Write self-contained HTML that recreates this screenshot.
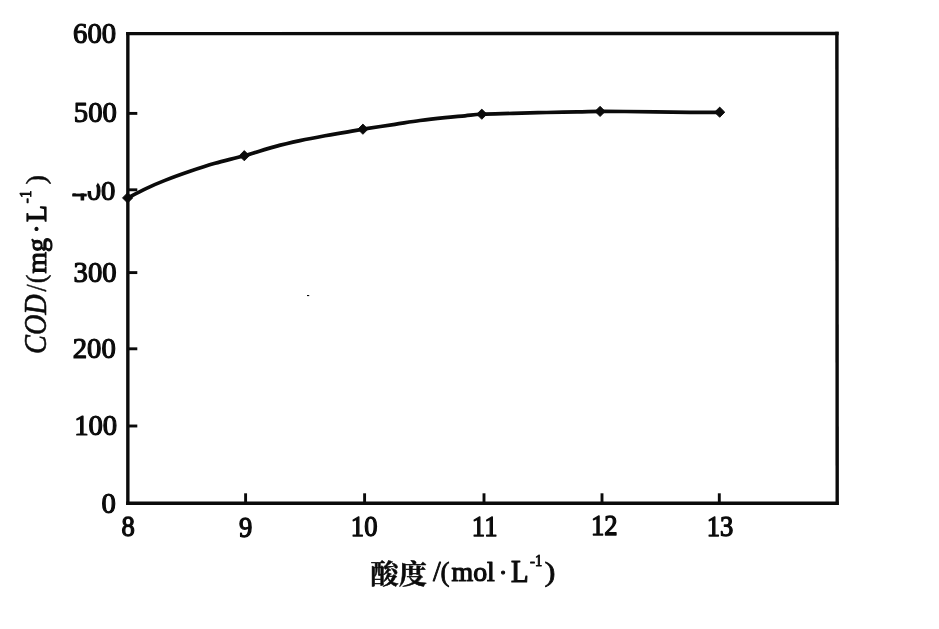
<!DOCTYPE html>
<html lang="zh">
<head>
<meta charset="utf-8">
<title>COD - 酸度</title>
<style>
  html, body { margin: 0; padding: 0; background: #fff; }
  body { width: 939px; height: 629px; overflow: hidden; position: relative; }
  svg { position: absolute; left: 0; top: 0; display: block; will-change: transform; }
  text {
    font-family: "Liberation Serif", "Noto Serif CJK SC", serif;
    font-size: 28px;
    fill: #0b0b0b;
    stroke: #0b0b0b;
    stroke-linejoin: round;
  }
  .cjk { font-family: "Noto Serif CJK SC", "Liberation Serif", serif; font-weight: 700; }
  .it { font-style: italic; }
</style>
</head>
<body>
<svg width="939" height="629" viewBox="0 0 939 629">
  <rect x="0" y="0" width="939" height="629" fill="#ffffff"/>

  <!-- plot frame -->
  <g fill="none" stroke="#0b0b0b" stroke-width="3.4" stroke-linecap="square">
    <line x1="127.85" y1="33.60" x2="836.90" y2="33.50"/>
    <line x1="127.85" y1="33.60" x2="127.85" y2="503.30"/>
    <line x1="127.85" y1="503.30" x2="836.90" y2="503.20"/>
    <line x1="836.90" y1="33.50" x2="837.20" y2="503.30"/>
  </g>
  <!-- axis ticks -->
  <g stroke="#0b0b0b" stroke-width="2.9" stroke-linecap="butt">
    <line x1="127.85" y1="113.40" x2="137.30" y2="113.40"/>
    <line x1="127.85" y1="189.80" x2="137.30" y2="189.80"/>
    <line x1="127.85" y1="272.60" x2="137.30" y2="272.60"/>
    <line x1="127.85" y1="348.80" x2="137.30" y2="348.80"/>
    <line x1="127.85" y1="426.00" x2="137.30" y2="426.00"/>
    <line x1="245.60" y1="503.30" x2="245.60" y2="493.30"/>
    <line x1="364.60" y1="503.30" x2="364.60" y2="493.30"/>
    <line x1="484.00" y1="503.30" x2="484.00" y2="493.30"/>
    <line x1="602.00" y1="503.30" x2="602.00" y2="493.30"/>
    <line x1="719.30" y1="503.30" x2="719.30" y2="493.30"/>
  </g>
  <!-- y tick labels -->
  <text transform="translate(73.10,42.65) scale(1,1.010)" style="font-size:28.70px;stroke-width:1.20px">600</text>
  <text transform="translate(73.87,122.45) scale(1,1.010)" style="font-size:28.70px;stroke-width:1.20px">500</text>
  <text transform="translate(72.30,200.10) scale(1,0.950)" style="font-size:28.70px;stroke-width:1.20px">400</text>
  <!-- seam in the scan wipes out the upper-left part of the 400 label -->
  <polygon points="64,170 97.6,170 97.6,183.2 95.6,186.5 92.6,191.1 87.4,191.1 87.4,193.3 64,193.3" fill="#ffffff"/>
  <text transform="translate(73.55,281.85) scale(1,1.010)" style="font-size:28.70px;stroke-width:1.20px">300</text>
  <text transform="translate(72.78,358.00) scale(1,1.010)" style="font-size:28.70px;stroke-width:1.20px">200</text>
  <text transform="translate(74.17,435.20) scale(1,1.010)" style="font-size:28.70px;stroke-width:1.20px">100</text>
  <text transform="translate(101.62,513.10) scale(1,1.010)" style="font-size:28.70px;stroke-width:1.20px">0</text>
  <!-- x tick labels -->
  <text transform="translate(121.47,536.15) scale(1,1.070)" style="font-size:26.60px;stroke-width:1.20px">8</text>
  <text transform="translate(238.95,536.55) scale(1,1.070)" style="font-size:26.60px;stroke-width:1.20px">9</text>
  <text transform="translate(350.87,535.75) scale(1,1.070)" style="font-size:26.60px;stroke-width:1.20px">10</text>
  <text transform="translate(471.82,535.50) scale(1,1.070)" style="font-size:26.60px;stroke-width:1.20px">11</text>
  <text transform="translate(591.05,535.35) scale(1,1.070)" style="font-size:26.60px;stroke-width:1.20px">12</text>
  <text transform="translate(706.70,535.60) scale(1,1.070)" style="font-size:26.60px;stroke-width:1.20px">13</text>
  <!-- data series -->
  <path d="M127.60,197.90 C130.67,196.35 139.77,191.52 146.00,188.60 C152.23,185.68 157.67,183.28 165.00,180.40 C172.33,177.52 181.67,174.15 190.00,171.30 C198.33,168.45 205.95,165.90 215.00,163.30 C224.05,160.70 234.30,158.48 244.30,155.70 C254.30,152.92 265.72,149.12 275.00,146.60 C284.28,144.08 291.67,142.42 300.00,140.60 C308.33,138.78 317.50,137.07 325.00,135.70 C332.50,134.33 338.68,133.48 345.00,132.40 C351.32,131.32 354.57,130.55 362.90,129.20 C371.23,127.85 385.48,125.75 395.00,124.30 C404.52,122.85 411.67,121.62 420.00,120.50 C428.33,119.38 437.50,118.38 445.00,117.60 C452.50,116.82 458.87,116.37 465.00,115.80 C471.13,115.23 473.80,114.60 481.80,114.20 C489.80,113.80 503.63,113.65 513.00,113.40 C522.37,113.15 529.67,112.90 538.00,112.70 C546.33,112.50 555.67,112.35 563.00,112.20 C570.33,112.05 575.82,111.93 582.00,111.80 C588.18,111.67 592.93,111.45 600.10,111.40 C607.27,111.35 615.85,111.42 625.00,111.50 C634.15,111.58 644.17,111.77 655.00,111.90 C665.83,112.03 679.22,112.23 690.00,112.30 C700.78,112.37 714.75,112.30 719.70,112.30" fill="none" stroke="#0b0b0b" stroke-width="3.7" stroke-linecap="round" stroke-linejoin="round"/>
  <g fill="#0b0b0b" stroke="#0b0b0b" stroke-width="0.9" stroke-linejoin="round">
    <path d="M127.60,192.80 L132.70,197.90 L127.60,203.00 L122.50,197.90 Z"/>
    <path d="M244.30,150.60 L249.40,155.70 L244.30,160.80 L239.20,155.70 Z"/>
    <path d="M362.90,124.10 L368.00,129.20 L362.90,134.30 L357.80,129.20 Z"/>
    <path d="M481.80,109.10 L486.90,114.20 L481.80,119.30 L476.70,114.20 Z"/>
    <path d="M600.10,106.30 L605.20,111.40 L600.10,116.50 L595.00,111.40 Z"/>
    <path d="M719.70,107.10 L724.80,112.20 L719.70,117.30 L714.60,112.20 Z"/>
  </g>
  <!-- stray speck from the scan -->
  <rect x="307" y="295" width="2.2" height="1.1" fill="#0b0b0b"/>
  <!-- x axis title: 酸度 /(mol·L-1) -->
  <text class="cjk" transform="translate(370.50,584.25) scale(1,0.958)" style="font-size:28.18px;stroke-width:0.50px">酸度</text>
  <text transform="translate(432.90,581.48) scale(1,1.038)" style="font-size:28.00px;stroke-width:0.80px">/</text>
  <text transform="translate(440.43,581.30) scale(1,1.004)" style="font-size:27.24px;stroke-width:0.80px">(</text>
  <text transform="translate(451.50,580.85) scale(1,0.984)" style="font-size:27.87px;stroke-width:1.15px">mol</text>
  <text transform="translate(498.75,581.45) scale(1,1.000)" style="font-size:26.00px;stroke-width:1.15px">·</text>
  <text transform="translate(511.10,581.77) scale(1,1.057)" style="font-size:28.87px;stroke-width:1.15px">L</text>
  <text transform="translate(530.02,566.40) scale(1,1.000)" style="font-size:15.00px;stroke-width:0.90px">-</text>
  <text transform="translate(535.10,566.10) scale(1,1.080)" style="font-size:14.50px;stroke-width:0.90px">1</text>
  <text transform="translate(544.48,581.30) scale(1,0.835)" style="font-size:33.07px;stroke-width:0.80px">)</text>
  <!-- y axis title: COD/(mg·L-1), rotated -->
  <text class="it" transform="translate(46.05,354.02) rotate(-90) scale(1,1.088)" style="font-size:28.34px;stroke-width:0.55px">COD</text>
  <text transform="translate(46.10,291.47) rotate(-90) scale(1,1.138)" style="font-size:25.59px;stroke-width:0.50px">/</text>
  <text transform="translate(45.45,283.33) rotate(-90) scale(1,1.072)" style="font-size:26.04px;stroke-width:0.50px">(</text>
  <text transform="translate(46.15,273.57) rotate(-90) scale(1,0.952)" style="font-size:27.76px;stroke-width:1.15px">mg</text>
  <text transform="translate(45.45,233.17) rotate(-90) scale(1,1.000)" style="font-size:26.00px;stroke-width:1.15px">·</text>
  <text transform="translate(45.90,222.00) rotate(-90) scale(1,1.065)" style="font-size:27.52px;stroke-width:1.15px">L</text>
  <text transform="translate(31.35,203.30) rotate(-90) scale(1,1.000)" style="font-size:15.00px;stroke-width:0.90px">-</text>
  <text transform="translate(31.05,197.67) rotate(-90) scale(1,1.080)" style="font-size:14.50px;stroke-width:0.90px">1</text>
  <text transform="translate(45.45,184.55) rotate(-90) scale(1,0.960)" style="font-size:28.78px;stroke-width:0.50px">)</text>
</svg>
</body>
</html>
